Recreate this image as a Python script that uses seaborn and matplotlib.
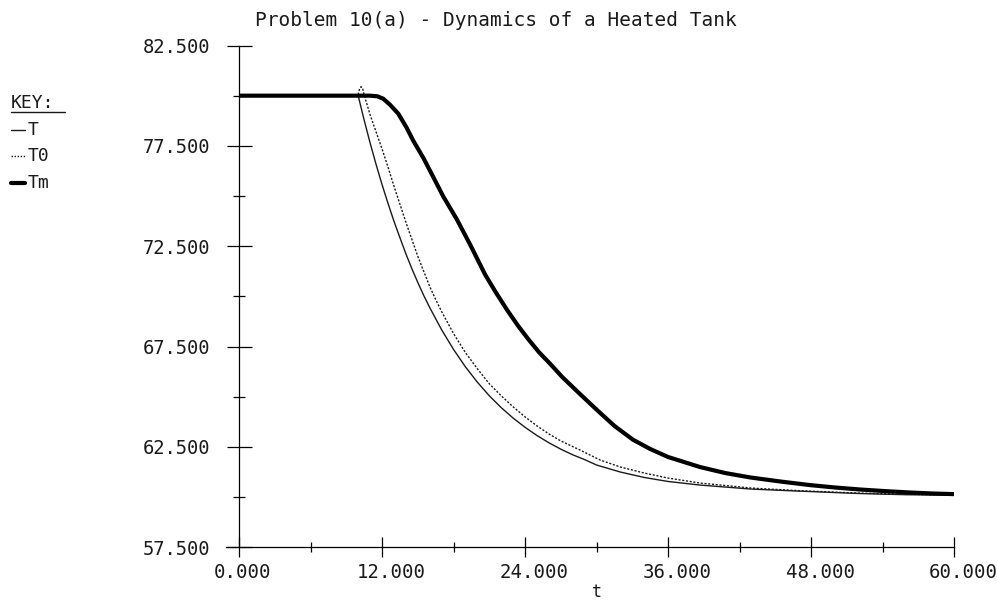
import numpy as np
import pandas as pd
import matplotlib
matplotlib.use("Agg")
import matplotlib.pyplot as plt
import matplotlib.transforms as mtransforms
from matplotlib.lines import Line2D
import seaborn as sns

# ---------------- data ----------------
T_t = [0, 10.0, 10.5, 11.0, 11.5, 12.0, 12.5, 13.0, 13.5, 14.0, 14.5, 15.0, 15.5,
       16.0, 17.0, 18.0, 19.0, 20.0, 21.0, 22.0, 23.0, 24.0, 25.0, 26.0, 27.0,
       28.0, 29.0, 30.0, 32.0, 34.0, 36.0, 38.7, 43.0, 47.0, 52.0, 56.0, 60.0]
T_v = [80.0, 80.0, 78.79, 77.65, 76.58, 75.58, 74.64, 73.75, 72.93, 72.13, 71.39,
       70.70, 70.05, 69.45, 68.34, 67.36, 66.49, 65.73, 65.05, 64.46, 63.94, 63.48,
       63.07, 62.71, 62.39, 62.11, 61.87, 61.60, 61.25, 60.98, 60.78, 60.60, 60.40,
       60.30, 60.18, 60.12, 60.10]

T0_t = [0, 9.98, 10.12, 10.25, 10.38, 10.5, 11.0, 11.5, 12.0, 12.5, 13.0, 13.5,
        14.0, 14.5, 15.0, 15.5, 16.0, 16.5, 17.0, 18.0, 19.0, 20.0, 21.0, 22.0,
        23.0, 24.0, 25.0, 26.0, 27.0, 28.6, 30.3, 32.0, 34.0, 36.0, 38.7, 43.0,
        47.0, 52.0, 56.0, 60.0]
T0_v = [80.0, 80.0, 80.35, 80.45, 80.35, 80.05, 79.05, 78.20, 77.35, 76.45, 75.50,
        74.60, 73.70, 72.85, 72.00, 71.25, 70.50, 69.85, 69.25, 68.15, 67.20, 66.40,
        65.65, 65.05, 64.50, 64.00, 63.55, 63.15, 62.80, 62.35, 61.85, 61.50, 61.20,
        60.95, 60.70, 60.45, 60.32, 60.20, 60.14, 60.10]

Tm_t = [0, 11.0, 11.6, 12.1, 12.67, 13.37, 14.07, 14.63, 15.47, 16.3, 17.14, 18.27,
        19.38, 20.64, 21.5, 22.49, 23.4, 24.3, 25.2, 26.1, 27.1, 28.5, 30.04, 31.5,
        33.06, 34.5, 36.0, 38.68, 40.8, 42.9, 45.4, 47.9, 50.0, 52.1, 54.2, 56.3,
        58.2, 60.0]
Tm_v = [80.0, 80.0, 79.97, 79.85, 79.55, 79.10, 78.40, 77.75, 76.90, 75.95, 74.98,
        73.85, 72.60, 71.10, 70.25, 69.33, 68.55, 67.85, 67.20, 66.65, 66.00, 65.20,
        64.34, 63.55, 62.86, 62.40, 62.00, 61.50, 61.20, 60.98, 60.78, 60.60, 60.48,
        60.38, 60.30, 60.23, 60.18, 60.15]

series_names = ["T", "T0", "Tm"]
x_major = [0, 12, 24, 36, 48, 60]
x_minor = [6, 18, 30, 42, 54]
y_major = [57.5, 62.5, 67.5, 72.5, 77.5, 82.5]
y_minor = [60, 65, 70, 75, 80]
title_text = "Problem 10(a) - Dynamics of a Heated Tank"

# ---------------- style ----------------
sns.set_theme(style="white")
plt.rcParams["font.family"] = ["DejaVu Sans Mono", "DejaVu Sans"]
plt.rcParams["axes.edgecolor"] = "black"
plt.rcParams["axes.linewidth"] = 0.9

W, H = 997, 601
fig = plt.figure(figsize=(W / 100, H / 100), dpi=100)
ax_l, ax_r, ax_t, ax_b = 239, 954, 45.5, 547.3
ax = fig.add_axes([ax_l / W, 1 - ax_b / H, (ax_r - ax_l) / W, (ax_b - ax_t) / H])

ink = "#1a1a1a"
sns.lineplot(x=T_t, y=T_v, ax=ax, color=ink, lw=1.0, estimator=None, sort=False)
sns.lineplot(x=T0_t, y=T0_v, ax=ax, color=ink, lw=1.0, linestyle=(0, (1.5, 1.2)),
             estimator=None, sort=False)
sns.lineplot(x=Tm_t, y=Tm_v, ax=ax, color="black", lw=3.0, estimator=None, sort=False)

ax.set_xlim(0, 60)
ax.set_ylim(57.5, 82.5)
ax.set_xticks(x_major)
ax.set_xticks(x_minor, minor=True)
ax.set_yticks(y_major)
ax.set_yticks(y_minor, minor=True)
ax.set_xticklabels([f"{v:.3f}" for v in x_major])
ax.set_yticklabels([f"{v:.3f}" for v in y_major])

for s in ["top", "right"]:
    ax.spines[s].set_visible(False)
ax.spines["bottom"].set_bounds(-1.1, 60)

ax.tick_params(axis="x", which="major", direction="inout", length=14, width=0.9,
               color="black", pad=4.5, labelsize=13.7, labelcolor=ink, bottom=True)
ax.tick_params(axis="x", which="minor", direction="inout", length=7.5, width=0.9,
               color="black", bottom=True)
ax.tick_params(axis="y", which="major", direction="inout", length=18, width=0.9,
               color="black", pad=11.5, labelsize=13.5, labelcolor=ink, left=True)
ax.tick_params(axis="y", which="minor", direction="inout", length=8, width=0.9,
               color="black", left=True)

# x tick labels start ~25 px left of their tick
offset = mtransforms.ScaledTranslation(-25 / 100, 0, fig.dpi_scale_trans)
for lab in ax.get_xticklabels():
    lab.set_horizontalalignment("left")
    lab.set_transform(lab.get_transform() + offset)

ax.set_xlabel("t", fontsize=12, color=ink)
ax.xaxis.set_label_coords(0.5, -0.071)
ax.set_ylabel("")

fig.text(0.4975, 1 - 25.5 / H, title_text, ha="center", va="baseline",
         fontsize=14, color=ink)

# ---------------- key ----------------
def fx(px):
    return px / W

def fy(py):
    return 1 - py / H

fig.text(fx(11), fy(103), "KEY:", ha="left", va="center", fontsize=13, color=ink)
fig.add_artist(Line2D([fx(11), fx(65)], [fy(112), fy(112)], color=ink, lw=1.0))
key_rows = [(130, dict(lw=1.0, ls="-", color=ink)),
            (156, dict(lw=1.0, ls=(0, (1.0, 1.2)), color=ink)),
            (183, dict(lw=3.0, ls="-", color="black"))]
for name, (yy, st) in zip(series_names, key_rows):
    fig.add_artist(Line2D([fx(11), fx(25)], [fy(yy), fy(yy)], **st))
    fig.text(fx(28), fy(yy), name, ha="left", va="center", fontsize=13, color=ink)

fig.savefig("out.png", dpi=100, facecolor="white")
